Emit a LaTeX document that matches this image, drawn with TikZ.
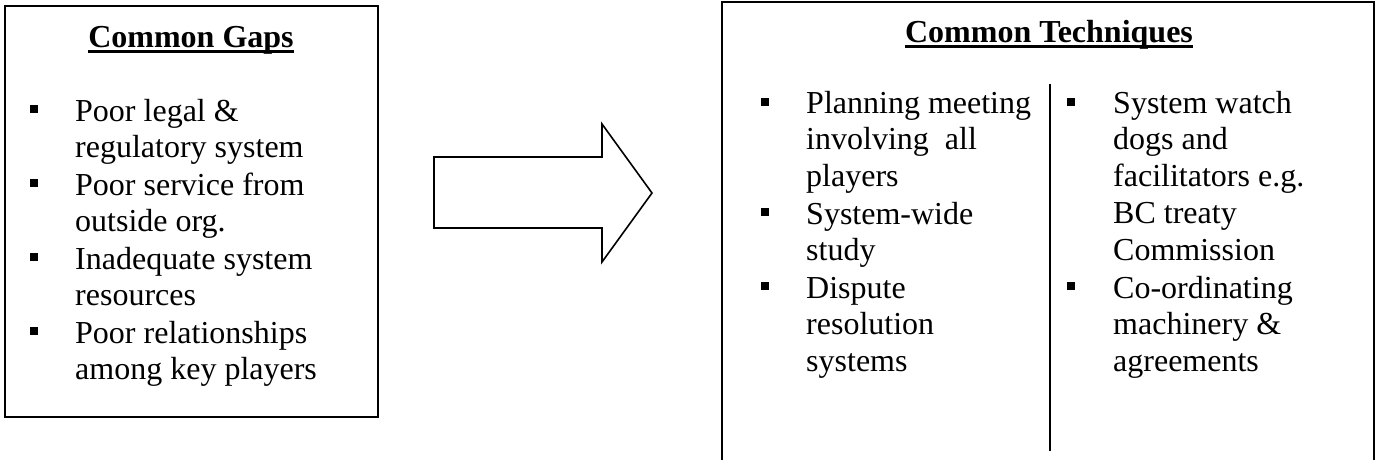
\documentclass[tikz,border=0pt]{standalone}
\usepackage{fontspec}
\setmainfont{Liberation Serif}
\newcommand\itemlines[2]{\parbox[t]{#1}{\raggedright #2}}
\begin{document}
\begin{tikzpicture}[x=1pt,y=-1pt,
  txt/.style={anchor=base west,inner sep=0pt,font={\fontsize{32}{36.8}\selectfont}},
  ttl/.style={anchor=base,inner sep=0pt,font={\fontsize{32}{36.8}\selectfont\bfseries}},
  bul/.style={fill=black,draw=none,minimum size=8.5pt,inner sep=0pt},
  frame/.style={draw=black,line width=2pt},
  uline/.style={line width=2.4pt}]
\useasboundingbox (0,0) rectangle (1375,459);
% left box
\draw[frame] (5,6) rectangle (378,417);
\node[ttl] (gt) at (191,47) {Common Gaps};
\draw[uline] ([yshift=-4.5pt]gt.base west) -- ([yshift=-4.5pt]gt.base east);
\node[bul] (gb1) at (34,109) {};
\node[bul] (gb2) at (34,183) {};
\node[bul] (gb3) at (34,257) {};
\node[bul] (gb4) at (34,331) {};
\node[txt] (g1) at (75,121) {\itemlines{295pt}{Poor legal \&\\regulatory system}};
\node[txt] (g2) at (75,195) {\itemlines{295pt}{Poor service from\\outside org.}};
\node[txt] (g3) at (75,269) {\itemlines{295pt}{Inadequate system\\resources}};
\node[txt] (g4) at (75,343) {\itemlines{295pt}{Poor relationships\\among key players}};
% arrow
\draw[line width=1.6pt,line join=miter] (434,157) -- (602,157) -- (602,124) -- (652,193) -- (602,262) -- (602,228) -- (434,228) -- cycle;
% right box
\draw[frame] (722,470) -- (722,1.5) -- (1373.5,1.5) -- (1373.5,470);
\node[ttl] (tt) at (1049,42) {Common Techniques};
\draw[uline] ([yshift=-4.5pt]tt.base west) -- ([yshift=-4.5pt]tt.base east);
\coordinate (dtop) at (1050,84);
\coordinate (dbot) at (1050,451);
\draw[line width=1.8pt] (dtop) -- (dbot);
\node[bul] (tb1) at (765,102) {};
\node[bul] (tb2) at (765,212) {};
\node[bul] (tb3) at (765,286) {};
\node[bul] (tb4) at (1071,102) {};
\node[bul] (tb5) at (1071,286) {};
\node[txt] (t1) at (806,113) {\itemlines{235pt}{Planning meeting\\involving\ \ all\\players}};
\node[txt] (t2) at (806,224) {\itemlines{235pt}{System-wide\\study}};
\node[txt] (t3) at (806,298) {\itemlines{235pt}{Dispute\\resolution\\systems}};
\node[txt] (t4) at (1113,113) {\itemlines{250pt}{System watch\\dogs and\\facilitators e.g.\\BC treaty\\Commission}};
\node[txt] (t5) at (1113,298) {\itemlines{250pt}{Co-ordinating\\machinery \&\\agreements}};
\end{tikzpicture}
\end{document}
